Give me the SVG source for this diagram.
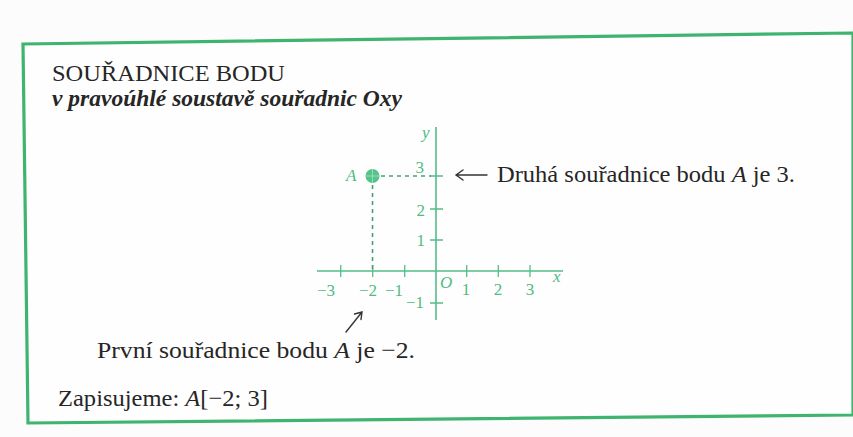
<svg xmlns="http://www.w3.org/2000/svg" width="853" height="437" viewBox="0 0 853 437">
<defs>
<style>
.txt{font-family:"Liberation Serif","DejaVu Serif","Times New Roman",serif;fill:#262626;font-size:24px}
.it{font-style:italic}
.gl{font-family:"Liberation Serif","DejaVu Serif","Times New Roman",serif;fill:#4dbb82;font-size:17px}
.axis{stroke:#55bd87;stroke-width:1.6;fill:none}
.tick{stroke:#55bd87;stroke-width:1.3;fill:none}
.dash{stroke:#4a9f74;stroke-width:1.6;stroke-dasharray:4 4;fill:none}
.arr{stroke:#333;stroke-width:1.4;fill:none;stroke-linecap:round}
</style>
</defs>
<rect x="0" y="0" width="853" height="437" fill="#fcfcfc"/>
<g id="frame">
<polygon points="23,44 853,33 853,415 28,423" fill="#fefefe" stroke="#3fb46f" stroke-width="3.2" stroke-linejoin="miter"/>
</g>
<g id="title">
<text class="txt" x="52" y="81" font-size="18" textLength="233" lengthAdjust="spacingAndGlyphs">SOUŘADNICE BODU</text>
</g>
<g id="subtitle">
<text class="txt it" x="52" y="106" font-size="17" textLength="350" lengthAdjust="spacingAndGlyphs" font-weight="bold" fill="#3a3a3a">v pravoúhlé soustavě souřadnic Oxy</text>
</g>
<g id="axes">
<line class="axis" x1="317" y1="271" x2="563" y2="271"/>
<line class="axis" x1="436" y1="127" x2="436" y2="320"/>
<path class="tick" d="M340.7 265V277M372.7 265V277M404.7 265V277M466.7 265V277M498.3 265V277M530 265V277"/>
<path class="tick" d="M430 176H443M430 209H443M430 240H443M430 303H443"/>
<text class="gl" x="335" y="296" text-anchor="end">−3</text>
<text class="gl" x="377" y="296" text-anchor="end">−2</text>
<text class="gl" x="403" y="296" text-anchor="end">−1</text>
<text class="gl it" x="440" y="288">O</text>
<text class="gl" x="466" y="295" text-anchor="middle">1</text>
<text class="gl" x="498" y="295" text-anchor="middle">2</text>
<text class="gl" x="530" y="295" text-anchor="middle">3</text>
<text class="gl it" x="553" y="282" font-size="15">x</text>
<text class="gl it" x="422" y="138" font-size="15">y</text>
<text class="gl" x="424" y="173" text-anchor="end">3</text>
<text class="gl" x="425" y="216" text-anchor="end">2</text>
<text class="gl" x="425" y="246" text-anchor="end">1</text>
<text class="gl" x="424" y="308" text-anchor="end">−1</text>
</g>
<g id="pointA">
<line class="dash" x1="381" y1="176" x2="431" y2="176"/>
<line class="dash" x1="372.5" y1="185" x2="372.5" y2="270"/>
<circle cx="372.5" cy="176" r="7" fill="#55c48c"/>
<path d="M365.5 176H379.5M372.5 169V183" stroke="#9adcb8" stroke-width="1"/>
<text class="gl it" x="346" y="181">A</text>
</g>
<g id="label-second">
<text class="txt" x="497" y="182" textLength="298" lengthAdjust="spacingAndGlyphs">Druhá souřadnice bodu <tspan class="it">A</tspan> je 3.</text>
</g>
<g id="label-first">
<text class="txt" x="97" y="358" textLength="318" lengthAdjust="spacingAndGlyphs">První souřadnice bodu <tspan class="it">A</tspan> je −2.</text>
</g>
<g id="notation">
<text class="txt" x="58" y="406" textLength="210" lengthAdjust="spacingAndGlyphs">Zapisujeme: <tspan class="it">A</tspan>[−2; 3]</text>
</g>
<g id="connectors">
<path class="arr" d="M487 175H456M463 170L456 175L463 180"/>
<path class="arr" d="M346 332L362 312M354.5 314L362 312L361 319.5"/>
</g>
</svg>
